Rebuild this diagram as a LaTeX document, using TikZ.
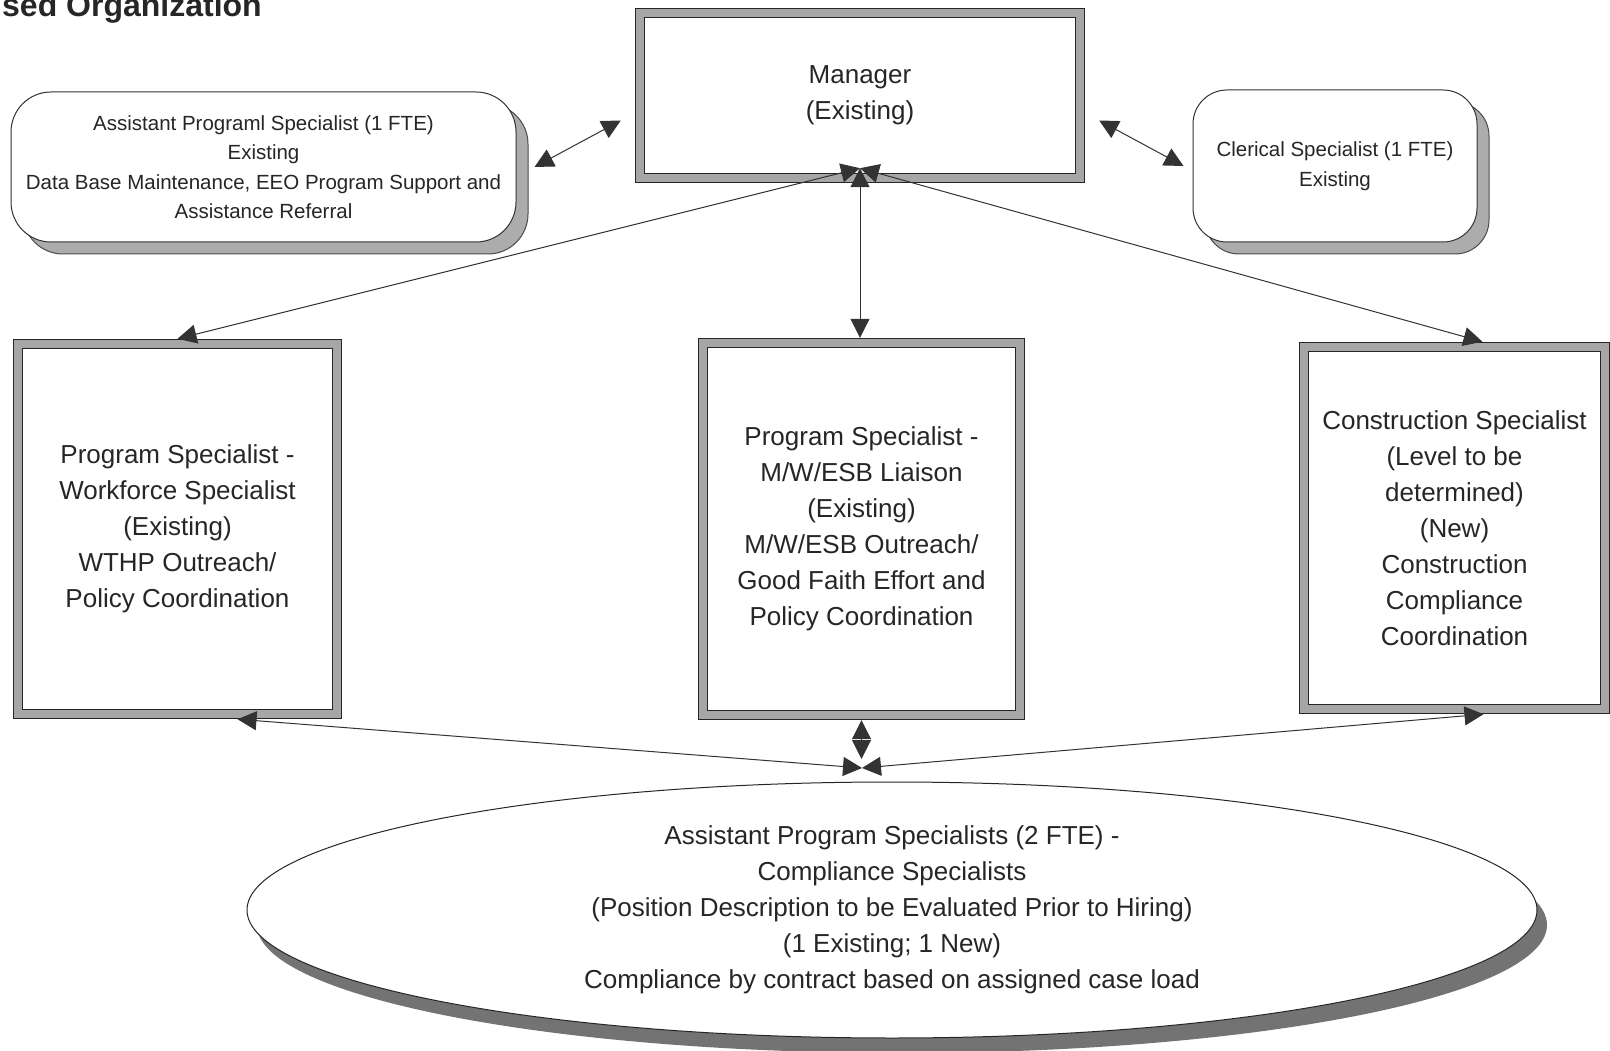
\documentclass[tikz,border=0pt]{standalone}
\usepackage{fontspec}
\setmainfont{Liberation Sans}
\usetikzlibrary{arrows.meta, shapes.geometric, shadows}

\newcommand{\boxfont}{\fontsize{26}{36}\selectfont}
\newcommand{\notefont}{\fontsize{20.5}{29.5}\selectfont}

\begin{document}
\begin{tikzpicture}
    [x=1pt, y=-1pt,
    frame/.style={draw=black!85, line width=1.1pt, double=gray!70, double distance=8pt,
        fill=white, outer sep=5.2pt, inner sep=0pt, align=center, text=black!85, font=\boxfont},
    pill/.style={draw=black!80, line width=1pt, fill=white, rounded corners=#1,
        inner sep=0pt, align=center, text=black!85, font=\notefont,
        drop shadow={shadow xshift=12pt, shadow yshift=-12pt, fill=gray!65, draw=black!70, opacity=1}},
    pill/.default=40pt,
    oval/.style={ellipse, draw=black!85, line width=1pt, fill=white, inner sep=0pt,
        align=center, text=black!85, font=\boxfont,
        drop shadow={shadow xshift=10pt, shadow yshift=-15pt, fill=black!55, opacity=1}},
    link/.style={draw=black!80, line width=1pt, >={Triangle[length=19pt,width=19pt]}, <->}]

    \fill[white] (0,0) rectangle (1610,1051);
    \useasboundingbox (0,0) rectangle (1610,1051);

    \node[anchor=base west, inner sep=0pt, text=black!85,
        font=\bfseries\fontsize{32}{38}\selectfont] (title) at (2,17) {sed Organization};

    % --- top row ---
    \node[frame, minimum width=440pt, minimum height=165pt] (mgr) at (860,95.5) {Manager\\(Existing)};
    \node[pill=40pt, minimum width=505pt, minimum height=150pt] (asst) at (263.5,167)
        {Assistant Programl Specialist (1 FTE)\\Existing\\Data Base Maintenance, EEO Program Support and\\Assistance Referral};
    \node[pill=34pt, minimum width=284pt, minimum height=152pt] (cler) at (1335,166)
        {Clerical Specialist (1 FTE)\\Existing};

    % --- specialists ---
    \node[frame, minimum width=319pt, minimum height=370pt] (lbox) at (177.5,529)
        {Program Specialist -\\Workforce Specialist\\(Existing)\\WTHP Outreach/\\Policy Coordination};
    \node[frame, minimum width=317pt, minimum height=372pt] (mbox) at (861.5,529)
        {Program Specialist -\\M/W/ESB Liaison\\(Existing)\\M/W/ESB Outreach/\\Good Faith Effort and\\Policy Coordination};
    \node[frame, minimum width=301pt, minimum height=362pt] (rbox) at (1454.5,528)
        {Construction Specialist\\(Level to be\\determined)\\(New)\\Construction\\Compliance\\Coordination};

    % --- compliance pool ---
    \node[oval, minimum width=1290pt, minimum height=256pt] (ell) at (892,910)
        {Assistant Program Specialists (2 FTE) -\\Compliance Specialists\\(Position Description to be Evaluated Prior to Hiring)\\(1 Existing; 1 New)\\Compliance by contract based on assigned case load};

    % hubs where the arrows meet
    \coordinate (mhub) at ([yshift=15pt]mgr.south);
    \coordinate (bhub) at (862,768);

    \draw[link] ([xshift=18pt]asst.east) -- ([xshift=-14pt,yshift=-25pt]mgr.west);
    \draw[link] ([xshift=14pt,yshift=-25pt]mgr.east) -- ([xshift=-9pt]cler.west);

    \draw[link] (mhub) -- (lbox.north);
    \draw[link] (mhub) -- (mhub |- mbox.north);
    \draw[link] (mhub) -- ([xshift=28pt]rbox.north);

    \draw[link] ([xshift=60pt]lbox.south) -- (bhub);
    \draw[link, shorten >=9pt] (mbox.south) -- (mbox.south |- bhub);
    \draw[link] ([xshift=29pt]rbox.south) -- (bhub);
\end{tikzpicture}
\end{document}
